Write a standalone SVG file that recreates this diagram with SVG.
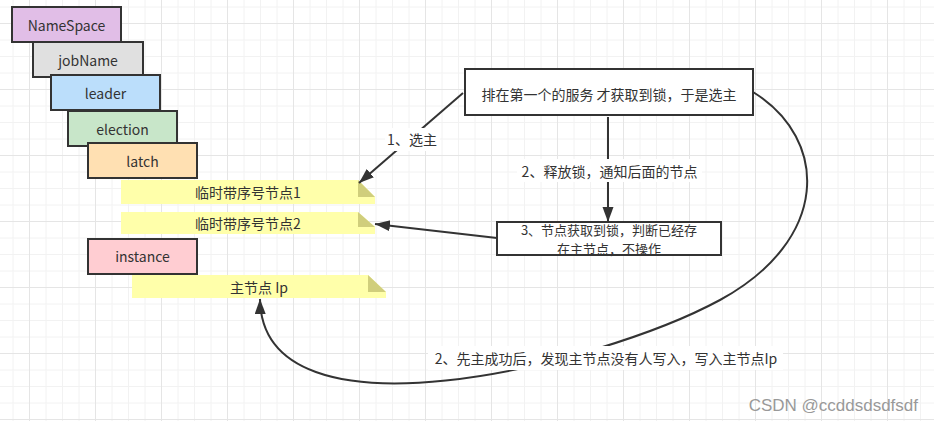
<svg xmlns="http://www.w3.org/2000/svg" width="934" height="421" viewBox="0 0 934 421">
<style>
.t{font-family:"Noto Sans CJK SC","Noto Sans",sans-serif;font-size:14px;fill:#333;text-anchor:middle;dominant-baseline:central}
.s{font-size:13px}
.box{stroke:#333;stroke-width:2}
.note{fill:#ffffaa}
.fold{fill:#d0ce7c}
.con{fill:none;stroke:#333;stroke-width:2}
.lbg{fill:#fff}
.mi{stroke:#f2f2f2;stroke-width:1}
.ma{stroke:#e5e5e5;stroke-width:1}
</style>
<defs>
<pattern id="grid" x="29" y="23" width="66" height="66" patternUnits="userSpaceOnUse">
<line class="mi" x1="17" y1="0" x2="17" y2="66"/>
<line class="mi" x1="33.5" y1="0" x2="33.5" y2="66"/>
<line class="mi" x1="50" y1="0" x2="50" y2="66"/>
<line class="mi" x1="0" y1="17" x2="66" y2="17"/>
<line class="mi" x1="0" y1="33.5" x2="66" y2="33.5"/>
<line class="mi" x1="0" y1="50" x2="66" y2="50"/>
<line class="ma" x1="0.5" y1="0" x2="0.5" y2="66"/>
<line class="ma" x1="0" y1="0.5" x2="66" y2="0.5"/>
</pattern>
<marker id="arr" markerUnits="userSpaceOnUse" markerWidth="17" markerHeight="13" refX="15" refY="5.5" orient="auto" viewBox="0 0 17 13">
<path d="M0,0 L15,5.5 L0,11 z" fill="#333"/>
</marker>
</defs>
<rect width="934" height="421" fill="#fff"/>
<rect width="934" height="421" fill="url(#grid)"/>

<g id="namespace"><rect class="box" x="12" y="7" width="109" height="35" fill="#e1bee7"/><text class="t" x="66.5" y="24.5">NameSpace</text></g>
<g id="jobname"><rect class="box" x="33" y="42" width="110" height="35" fill="#e0e0e0"/><text class="t" x="88" y="59.5">jobName</text></g>
<g id="leader"><rect class="box" x="51" y="75" width="109" height="35" fill="#bbdefb"/><text class="t" x="105.5" y="92.5">leader</text></g>
<g id="election"><rect class="box" x="68" y="111" width="109" height="35" fill="#c8e6c9"/><text class="t" x="122.5" y="128.5">election</text></g>
<g id="latch"><rect class="box" x="88" y="143" width="109" height="35" fill="#ffe0b2"/><text class="t" x="142.5" y="160.5">latch</text></g>

<g id="node1"><polygon class="note" points="121,180 358,180 375,197 375,204 121,204"/><polygon class="fold" points="358,180 375,197 358,197"/><text class="t" x="248" y="192">临时带序号节点1</text></g>
<g id="node2"><polygon class="note" points="121,212 358,212 375,227 375,234 121,234"/><polygon class="fold" points="358,212 375,227 358,227"/><text class="t" x="248" y="223">临时带序号节点2</text></g>
<g id="instance"><rect class="box" x="88" y="239" width="109" height="35" fill="#ffcdd2"/><text class="t" x="142.5" y="256">instance</text></g>
<g id="masterip"><polygon class="note" points="132,275 368,275 386,292 386,298 132,298"/><polygon class="fold" points="368,275 386,292 368,292"/><text class="t" x="259" y="287">主节点 Ip</text></g>

<g id="service"><rect class="box" x="465" y="69" width="288" height="46" fill="#fff"/><text class="t" x="609" y="93.5">排在第一个的服务 才获取到锁，于是选主</text></g>
<g id="acquire"><rect class="box" x="497" y="222" width="224" height="33" fill="#fff"/><text class="t s" x="609" y="229">3、节点获取到锁，判断已经存</text><text class="t s" x="609" y="248">在主节点，不操作</text></g>

<g id="connectors">
<line class="con" x1="463" y1="93" x2="359" y2="183" marker-end="url(#arr)"/>
<rect class="lbg" x="385" y="128" width="55" height="23"/>
<text class="t" x="412" y="139">1、选主</text>
<line class="con" x1="608" y1="117" x2="608" y2="222" marker-end="url(#arr)"/>
<rect class="lbg" x="517" y="159" width="185" height="23"/>
<text class="t" x="609.5" y="170.5">2、释放锁，通知后面的节点</text>
<line class="con" x1="497" y1="238" x2="375" y2="224" marker-end="url(#arr)"/>
<path class="con" d="M753,92 C830,140 830,240 720,300 C600,365 262,450 260,299" marker-end="url(#arr)"/>
<rect class="lbg" x="428" y="346" width="355" height="24"/>
<text class="t" x="606" y="358">2、先主成功后，发现主节点没有人写入，写入主节点Ip</text>
</g>
<text x="918" y="405" font-family="Liberation Sans, Arial, sans-serif" font-size="17" fill="#999" text-anchor="end" dominant-baseline="central">CSDN @ccddsdsdfsdf</text>
</svg>
